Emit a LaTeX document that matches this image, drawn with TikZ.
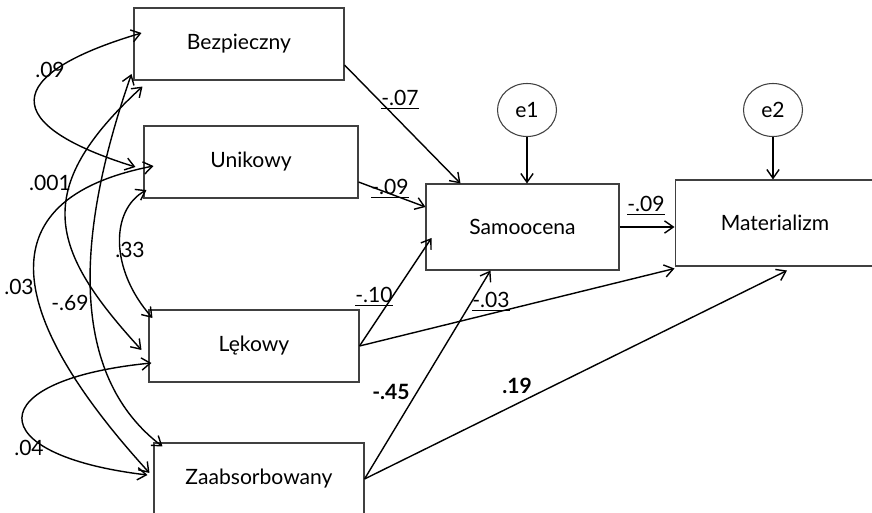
\documentclass[tikz,border=0pt]{standalone}
\usepackage{fontspec}
\setmainfont{Lato}
\usepackage{tikz}
\usetikzlibrary{calc,arrows.meta,shapes.geometric}

\tikzset{
  var/.style={draw=black!75, line width=0.6pt, minimum height=1.44cm,
    font=\fontsize{12}{14}\selectfont},
  err/.style={draw=black!75, ellipse, line width=0.6pt, inner sep=0pt,
    minimum width=1.18cm, minimum height=1.06cm, font=\fontsize{12}{14}\selectfont},
  eff/.style={-{Straight Barb[length=5pt,width=7pt]}, line width=0.8pt},
  cov/.style={{Straight Barb[length=5pt,width=7pt]}-{Straight Barb[length=5pt,width=7pt]}, line width=0.8pt},
  lab/.style={font=\fontsize{12}{14}\selectfont, inner sep=1pt}
}

\begin{document}
\begin{tikzpicture}[x=0.02cm, y=-0.02cm]
    \useasboundingbox (0,0) rectangle (872,513);
    \clip (0,0) rectangle (872,513);

    % observed variables
    \node[var, minimum width=4.2cm] (bez) at (239,44) {Bezpieczny};
    \node[var, minimum width=4.28cm] (uni) at (251,162) {Unikowy};
    \node[var, minimum width=4.2cm] (lek) at (254,346) {Lękowy};
    \node[var, minimum width=4.2cm] (zaa) at (259,479) {Zaabsorbowany};

    \node[var, minimum width=3.86cm, minimum height=1.72cm] (sam) at (522.5,227) {Samoocena};
    \node[var, minimum width=4cm, minimum height=1.72cm] (mat) at (775,223) {Materializm};
    \node[err] (e1) at (527,110) {e1};
    \node[err] (e2) at (773,110) {e2};

    % paths
    \draw[eff] ($(bez.east)+(0,21)$) -- ($(sam.north)+(-62,0)$);
    \draw[eff] ($(uni.east)+(0,20)$) -- ($(sam.west)+(0,-20)$);
    \draw[eff] (lek.east) -- ($(sam.west)+(6,11)$);
    \draw[eff] (lek.east) -- ($(mat.south west)+(0,2)$);
    \draw[eff] (zaa.east) -- ($(sam.south)+(-32,0)$);
    \draw[eff] (zaa.east) -- ($(mat.south)+(12,4)$);
    \draw[eff] (sam.east) -- (sam.east -| mat.west);
    \draw[eff] (e1) -- (e1 |- sam.north);
    \draw[eff] (e2) -- (e2 |- mat.north);

    % covariances
    \draw[cov] ($(bez.west)+(8,-11)$) .. controls (0,75) and (0,125) .. ($(uni.west)+(-8,5)$);
    \draw[cov] ($(bez.south west)+(9,6)$) .. controls (30,190) and (50,250) .. ($(lek.west)+(-7,4)$);
    \draw[cov] ($(bez.west)+(-2,30)$) .. controls (70,250) and (75,380) .. ($(zaa.north west)+(9,4)$);
    \draw[cov] ($(uni.west)+(10,4)$) .. controls (-20,200) and (10,320) .. ($(zaa.west)+(-4,-6)$);
    \draw[cov] ($(uni.west)+(3,28)$) .. controls (110,210) and (110,270) .. ($(lek.west)+(4,-28)$);
    \draw[cov] ($(lek.west)+(3,17)$) .. controls (-20,380) and (-20,455) .. ($(zaa.west)+(-6,-4)$);

    \node[lab] (c1) at (50,70) {.09};
    \node[lab] (c2) at (50,183) {.001};
    \node[lab] (c3) at (130,250) {.33};
    \node[lab] (c4) at (19,287) {.03};
    \node[lab] (c5) at (70,303) {-.69};
    \node[lab] (c6) at (29,448) {.04};

    \node[lab] (p1) at (400,100) {\underline{-.07}};
    \node[lab] (p2) at (390,189) {\underline{-.09}};
    \node[lab] (p3) at (374,297) {\underline{-.10}};
    \node[lab] (p4) at (491,302) {\underline{-.03}};
    \node[lab] (p5) at (391,392) {\textbf{-.45}};
    \node[lab] (p6) at (517,386) {\textbf{.19}};
    \node[lab] (p7) at (646,206) {\underline{-.09}};
\end{tikzpicture}
\end{document}
